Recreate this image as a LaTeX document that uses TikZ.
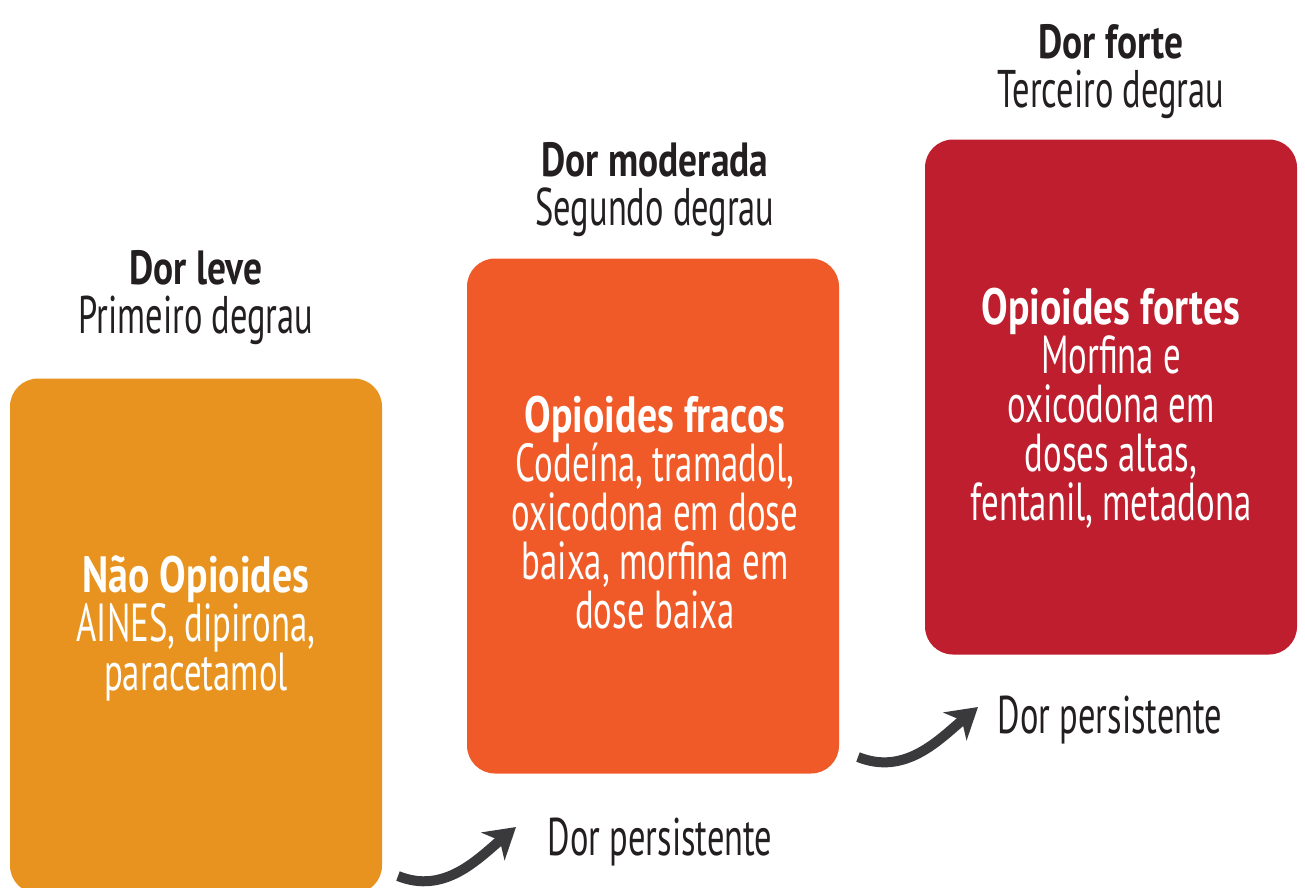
\documentclass[tikz,border=0pt]{standalone}
\usepackage{fontspec}
\setmainfont{PT Sans}[FakeStretch=0.65,BoldFeatures={FakeStretch=0.78}]
\usetikzlibrary{arrows.meta}

\definecolor{leve}{HTML}{E8931F}
\definecolor{moderada}{HTML}{F05A28}
\definecolor{forte}{HTML}{BE1E2D}
\definecolor{seta}{HTML}{3A3A3C}
\definecolor{texto}{HTML}{231F20}

\newcommand{\nome}{\fontsize{48}{49}\selectfont\bfseries}
\newcommand{\nomecaixa}{\fontsize{51}{50}\selectfont\bfseries}
\setlength{\lineskiplimit}{-100pt}

\tikzset{
	degrau/.style={rounded corners=28pt, minimum width=372pt, minimum height=515pt, inner sep=0pt},
	cabeca/.style={anchor=base, align=center, inner sep=0pt, text=texto, font=\fontsize{53}{49}\selectfont},
	dentro/.style={anchor=base, align=center, inner sep=0pt, text=white, font=\fontsize{53.5}{49}\selectfont},
	subida/.style={draw=seta, line width=10pt, -{Stealth[length=30pt,width=36pt,inset=9pt]}}
}

\begin{document}
\begin{tikzpicture}[x=1pt,y=-1pt]
	\clip (0,0) rectangle (1305,887);
	\fill[white] (0,0) rectangle (1305,887);

	% os tres degraus
	\node[degrau, fill=leve] (b1) at (196,636) {};
	\node[degrau, fill=moderada] (b2) at (653,516) {};
	\node[degrau, fill=forte] (b3) at (1111,397) {};

	% titulos acima dos degraus (base = ultima linha)
	\node[cabeca] (h1) at (196,333) {{\nome Dor leve}\\Primeiro degrau};
	\node[cabeca] (h2) at (655,225) {{\nome Dor moderada}\\Segundo degrau};
	\node[cabeca] (h3) at (1111,107) {{\nome Dor forte}\\Terceiro degrau};

	% textos dentro dos degraus
	\node[dentro] (t1) at (196,690) {{\nomecaixa Não Opioides}\\AINES, dipirona,\\paracetamol};
	\node[dentro] (t2) at (655,628) {{\nomecaixa Opioides fracos}\\Codeína, tramadol,\\oxicodona em dose\\baixa, morfina em\\dose baixa};
	\node[dentro] (t3) at (1111,520) {{\nomecaixa Opioides fortes}\\Morfina e\\oxicodona em\\doses altas,\\fentanil, metadona};

	% setas
	\node[cabeca] (p1) at (660,855) {Dor persistente};
	\node[cabeca] (p2) at (1110,733) {Dor persistente};
	\coordinate (s1a) at (398,876);
	\coordinate (s1b) at (516,827);
	\coordinate (s2a) at (858,757);
	\coordinate (s2b) at (978,707);
	\draw[subida] (s1a) to[out=-22,in=-140] (s1b);
	\draw[subida] (s2a) to[out=-22,in=-140] (s2b);
\end{tikzpicture}
\end{document}
